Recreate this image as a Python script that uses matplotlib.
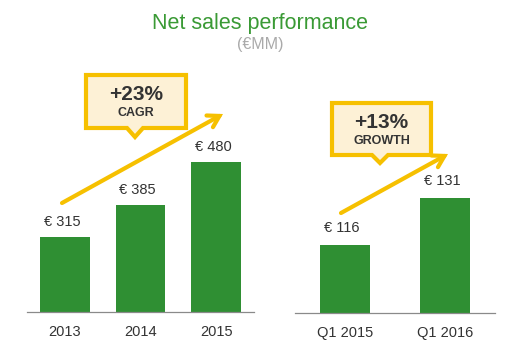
import matplotlib
matplotlib.use("Agg")
import matplotlib.pyplot as plt
from matplotlib.patches import Polygon, FancyArrowPatch

plt.rcParams['font.family'] = ['Liberation Sans', 'DejaVu Sans']

annual_labels = ["2013", "2014", "2015"]
annual_values = [315, 385, 480]
quarter_labels = ["Q1 2015", "Q1 2016"]
quarter_values = [116, 131]
cagr_text = "+23%"
cagr_sub = "CAGR"
growth_text = "+13%"
growth_sub = "GROWTH"

GREEN = "#2f8f33"
GOLD = "#f6c000"
CREAM = "#fdf1d6"
W, H = 515, 348

fig = plt.figure(figsize=(W / 100, H / 100), dpi=100)

def px_axes(x0, x1, ybot, ytop):
    return fig.add_axes([x0 / W, 1 - ybot / H, (x1 - x0) / W, (ybot - ytop) / H])

def style(ax):
    for s in ["top", "right", "left"]:
        ax.spines[s].set_visible(False)
    ax.spines["bottom"].set_color("#8a8a8a")
    ax.spines["bottom"].set_linewidth(0.9)
    ax.set_yticks([])
    ax.tick_params(axis="x", length=0, labelsize=10.5, labelcolor="#333333", pad=9)

# left panel
ax1 = px_axes(27, 254, 312, 60)
ax1.bar(range(len(annual_values)), annual_values, width=0.66, color=GREEN)
ax1.set_xlim(-0.5, 2.5)
ax1.set_ylim(150, 150 + 252 / 0.4545)
ax1.set_xticks(range(len(annual_labels)), annual_labels)
style(ax1)
for i, v in enumerate(annual_values):
    ax1.annotate(f"€ {v}", (i, v), xytext=(-2, 11), textcoords="offset points",
                 ha="center", va="center", fontsize=10.5, color="#333333")

# right panel
ax2 = px_axes(295, 495, 313, 60)
ax2.bar(range(len(quarter_values)), quarter_values, width=0.5, color=GREEN)
ax2.set_xlim(-0.5, 1.5)
ax2.set_ylim(94.3, 94.3 + 253 / 3.13)
ax2.set_xticks(range(len(quarter_labels)), quarter_labels)
style(ax2)
for i, v in enumerate(quarter_values):
    ax2.annotate(f"€ {v}", (i, v), xytext=(-2, 12), textcoords="offset points",
                 ha="center", va="center", fontsize=10.5, color="#333333")

# overlay for decorations (pixel coordinates)
ov = fig.add_axes([0, 0, 1, 1])
ov.set_xlim(0, W)
ov.set_ylim(H, 0)
ov.axis("off")

fig.text(260 / W, 1 - 23 / H, "Net sales performance", ha="center", va="center",
         fontsize=15.5, color="#3a9a35")
fig.text(260 / W, 1 - 45 / H, "(€MM)", ha="center", va="center",
         fontsize=11.5, color="#aaaaaa")

def arrow(p0, p1):
    ov.add_patch(FancyArrowPatch(p0, p1, arrowstyle="->,head_length=5,head_width=3",
                                 color=GOLD, lw=3, mutation_scale=1.6,
                                 shrinkA=0, shrinkB=0, capstyle="round",
                                 joinstyle="miter"))

arrow((62, 203), (223, 114))
arrow((341, 213), (448, 154))

def callout(x0, x1, y0, y1, tipx, tipy, big, small):
    hw = 8
    pts = [(x0, y0), (x1, y0), (x1, y1), (tipx + hw, y1), (tipx, tipy),
           (tipx - hw, y1), (x0, y1)]
    ov.add_patch(Polygon(pts, closed=True, facecolor=CREAM, edgecolor=GOLD,
                         lw=3, joinstyle="miter"))
    cx = (x0 + x1) / 2
    ov.text(cx, y0 + 20, big, ha="center", va="center", fontsize=15,
            fontweight="bold", color="#333333")
    ov.text(cx, y0 + 38, small, ha="center", va="center", fontsize=9,
            fontweight="bold", color="#333333")

callout(86, 186, 75, 128, 135, 137, cagr_text, cagr_sub)
callout(332, 431, 103, 155, 380, 163, growth_text, growth_sub)

fig.savefig("out.png", dpi=100)
